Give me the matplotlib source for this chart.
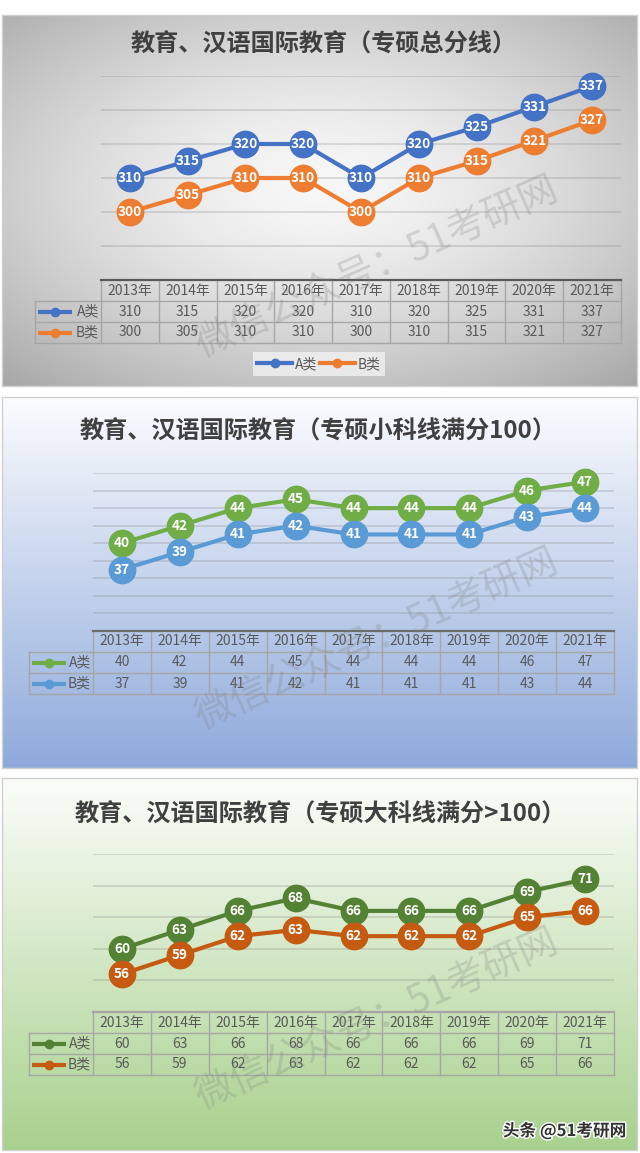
import numpy as np
import matplotlib
matplotlib.use("Agg")
import matplotlib.pyplot as plt
from matplotlib.lines import Line2D
from matplotlib.patches import Rectangle
from matplotlib.transforms import blended_transform_factory
import matplotlib.patheffects as pe

plt.rcParams['font.family'] = ['Noto Sans CJK SC', 'DejaVu Sans']

years = ['2013年', '2014年', '2015年', '2016年', '2017年', '2018年', '2019年', '2020年', '2021年']
series_names = ['A类', 'B类']

total_a = [310, 315, 320, 320, 310, 320, 325, 331, 337]
total_b = [300, 305, 310, 310, 300, 310, 315, 321, 327]
small_a = [40, 42, 44, 45, 44, 44, 44, 46, 47]
small_b = [37, 39, 41, 42, 41, 41, 41, 43, 44]
big_a = [60, 63, 66, 68, 66, 66, 66, 69, 71]
big_b = [56, 59, 62, 63, 62, 62, 62, 65, 66]

W, H = 640, 1153
fig = plt.figure(figsize=(W / 100, H / 100), dpi=100)
bg = fig.add_axes([0, 0, 1, 1])
bg.axis('off')

TEXT = '#595959'
BORDER = '#a6a6a6'


def px_axes(x0, y0, x1, y1):
    return fig.add_axes([x0 / W, 1 - y1 / H, (x1 - x0) / W, (y1 - y0) / H])


def panel_background(box, top=None, bottom=None):
    x0, y0, x1, y1 = box
    if top is None:
        # radial grey gradient
        xx, yy = np.meshgrid(np.linspace(-1, 1, 240), np.linspace(-1, 1, 140))
        r = np.hypot(xx, yy * 1.05 + 0.08)
        v = np.clip(0.97 - 0.17 * r ** 1.5, 0, 1)
        img = np.dstack([v, v, v])
    else:
        t = np.linspace(0, 1, 200)[:, None, None]
        c0 = np.array(matplotlib.colors.to_rgb(top))[None, None, :]
        c1 = np.array(matplotlib.colors.to_rgb(bottom))[None, None, :]
        img = np.repeat(c0 * (1 - t) + c1 * t, 2, axis=1)
    bg.imshow(img, extent=(x0, x1, y1, y0), aspect='auto', interpolation='bilinear', zorder=0)
    bg.add_patch(Rectangle((x0, y0), x1 - x0, y1 - y0, fill=False, ec='#d0d0d0', lw=1, zorder=1))


def watermark(cx, cy):
    bg.text(cx, cy, '微信公众号：51考研网', rotation=24, rotation_mode='anchor',
            ha='center', va='center', fontsize=28, color='#7f7f7f', alpha=0.26, zorder=6)


def draw_panel(a_vals, b_vals, colors, title, title_xy, plot_box, ylim, grid_ticks, key_left, axis_color):
    bg.text(title_xy[0], title_xy[1], title, ha='center', va='center', fontsize=17.4,
            weight='bold', color='#404040', zorder=2)

    ax = px_axes(*plot_box)
    ax.set_facecolor('none')
    ax.set_xlim(-0.5, len(years) - 0.5)
    ax.set_ylim(*ylim)
    ax.axis('off')
    for t in grid_ticks:
        ax.axhline(t, color='#7f7f7f', alpha=0.3, lw=1.1, zorder=1)

    x = np.arange(len(years))
    for vals, c in zip([a_vals, b_vals], colors):
        ax.plot(x, vals, color=c, lw=3, marker='o', ms=19, mfc=c, mec=c,
                clip_on=False, zorder=3)
        for xi, v in zip(x, vals):
            ax.text(xi, v, str(v), ha='center', va='center', color='white',
                    fontsize=9.8, weight='bold', zorder=4)

    # data table under the plot
    tr = blended_transform_factory(ax.transData, bg.transData)
    tx0, ty, tx1 = plot_box[0], plot_box[3], plot_box[2]
    rh = 21
    for k in range(1, 4):
        bg.plot([key_left, tx1], [ty + k * rh] * 2, color=BORDER, lw=1, zorder=2)
    bg.plot([key_left, key_left], [ty + rh, ty + 3 * rh], color=BORDER, lw=1, zorder=2)
    for i in range(len(years) + 1):
        bg.plot([i - 0.5, i - 0.5], [ty, ty + 3 * rh], color=BORDER, lw=1,
                transform=tr, zorder=2)
    bg.plot([tx0, tx1], [ty, ty], color=axis_color, lw=1.6, zorder=2)

    for i, yr in enumerate(years):
        bg.text(i, ty + rh * 0.5, yr, transform=tr, ha='center', va='center',
                fontsize=10, color=TEXT, zorder=3)
        bg.text(i, ty + rh * 1.5, str(a_vals[i]), transform=tr, ha='center', va='center',
                fontsize=10, color=TEXT, zorder=3)
        bg.text(i, ty + rh * 2.5, str(b_vals[i]), transform=tr, ha='center', va='center',
                fontsize=10, color=TEXT, zorder=3)

    for k, (name, c) in enumerate(zip(series_names, colors)):
        yc = ty + rh * (1.5 + k)
        bg.plot([key_left + 3, key_left + 20, key_left + 37], [yc] * 3, color=c, lw=3,
                marker='o', ms=6, markevery=[1], solid_capstyle='butt', zorder=3)
        bg.text(tx0 - 2, yc, name, ha='right', va='center', fontsize=10, color=TEXT, zorder=3)
    return ax


# panel 1: 总分线
p1 = (2, 15, 637, 386)
panel_background(p1)
draw_panel(total_a, total_b, ['#4472c4', '#ed7d31'], '教育、汉语国际教育（专硕总分线）',
           (324, 45), (101, 76, 621, 280), (280, 340), range(290, 341, 10), 35, '#595959')
watermark(377, 268)
handles = [Line2D([], [], color=c, lw=3, marker='o', ms=6) for c in ['#4472c4', '#ed7d31']]
leg = fig.legend(handles, series_names, loc='center', bbox_to_anchor=(319 / W, 1 - 364 / H),
                 ncol=2, fontsize=10, handlelength=2.5, handletextpad=0.2,
                 columnspacing=0.2, borderpad=0.35, fancybox=False)
leg.get_frame().set_facecolor('#f2f2f2')
leg.get_frame().set_edgecolor('none')
leg.get_frame().set_alpha(0.8)
for t in leg.get_texts():
    t.set_color(TEXT)

# panel 2: 小科线
p2 = (2, 397, 637, 768)
panel_background(p2, '#fbfcfe', '#8eaadb')
draw_panel(small_a, small_b, ['#70ad47', '#5b9bd5'], '教育、汉语国际教育（专硕小科线满分100）',
           (318, 432), (93, 473, 614, 631), (30, 48), range(32, 49, 2), 29, '#6b6b6b')
watermark(377, 640)

# panel 3: 大科线
p3 = (2, 778, 637, 1150)
panel_background(p3, '#fbfdfa', '#a9d18e')
draw_panel(big_a, big_b, ['#548235', '#c55a11'], '教育、汉语国际教育（专硕大科线满分>100）',
           (320, 815), (93, 854, 614, 1012), (50, 75), range(55, 76, 5), 29, BORDER)
watermark(377, 1020)

bg.text(626, 1131, '头条 @51考研网', ha='right', va='center', fontsize=12, weight='bold',
        color='#333333', zorder=7, path_effects=[pe.withStroke(linewidth=2, foreground='white')])

bg.set_xlim(0, W)
bg.set_ylim(H, 0)
fig.savefig('out.png', dpi=100)
